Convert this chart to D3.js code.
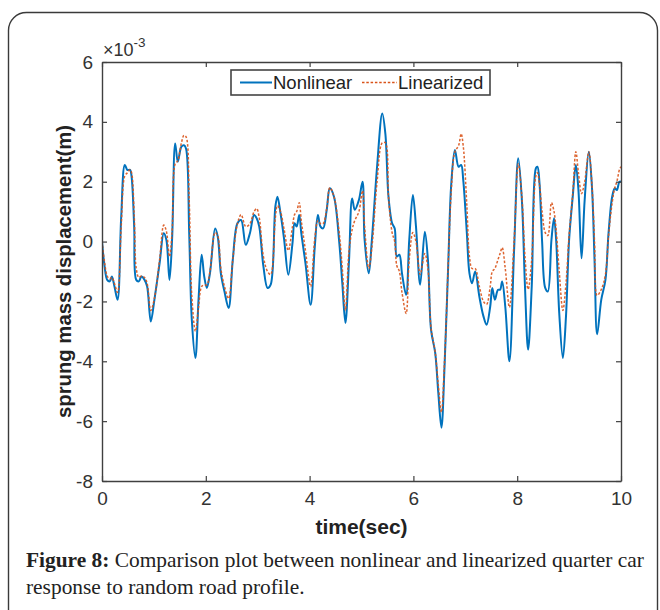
<!DOCTYPE html>
<html><head><meta charset="utf-8">
<script src="https://cdn.jsdelivr.net/npm/d3@7"></script>
<style>
html,body{margin:0;padding:0;background:#fff;}
svg{display:block;}
</style></head>
<body>
<svg id="c" width="660" height="610"></svg>
<script>
// ---- data (values in units of 1e-3 m) ----
const time = [0.00,0.05,0.10,0.15,0.19,0.24,0.30,0.37,0.44,0.49,0.54,0.57,0.62,0.66,0.71,0.76,0.82,0.87,0.94,1.01,1.11,1.19,1.24,1.30,1.35,1.41,1.46,1.53,1.58,1.62,1.68,1.73,1.80,1.86,1.92,1.97,2.02,2.08,2.18,2.23,2.29,2.36,2.44,2.52,2.61,2.68,2.77,2.85,2.93,2.98,3.03,3.11,3.19,3.25,3.34,3.38,3.44,3.51,3.59,3.67,3.71,3.75,3.80,3.84,3.92,4.02,4.10,4.16,4.21,4.26,4.33,4.39,4.47,4.57,4.63,4.69,4.76,4.82,4.87,4.95,5.02,5.06,5.14,5.20,5.30,5.40,5.46,5.52,5.59,5.64,5.68,5.73,5.78,5.86,5.92,5.99,6.05,6.13,6.22,6.28,6.34,6.42,6.48,6.54,6.60,6.67,6.73,6.80,6.87,6.92,6.96,7.03,7.08,7.13,7.19,7.27,7.35,7.41,7.48,7.52,7.57,7.63,7.67,7.71,7.77,7.85,7.94,8.02,8.09,8.15,8.21,8.28,8.36,8.39,8.43,8.48,8.54,8.59,8.66,8.71,8.75,8.81,8.88,8.94,9.00,9.07,9.13,9.18,9.24,9.30,9.38,9.44,9.49,9.54,9.62,9.70,9.76,9.83,9.88,9.92,9.97,10.00];
const nonlinear = [0.00,-0.83,-1.28,-1.33,-1.17,-1.50,-1.94,0.83,2.56,2.39,2.40,2.17,0.50,-1.28,-1.33,-1.17,-1.28,-1.50,-2.67,-1.94,-0.72,0.28,0.06,-1.28,0.06,3.28,2.67,3.17,3.22,3.10,0.28,-2.60,-3.89,-1.94,-0.44,-1.17,-1.55,-1.06,0.44,0.17,-1.06,-1.67,-2.22,-0.61,0.61,0.72,-0.11,0.28,0.89,0.78,0.50,-0.83,-1.55,-1.44,1.17,1.50,0.94,0.06,-1.11,-0.06,0.61,0.50,0.89,0.28,-0.72,-2.11,-0.17,0.89,0.50,0.44,1.06,1.78,1.50,0.00,-1.39,-2.72,-0.61,1.44,1.06,1.39,2.00,0.06,-1.06,0.06,2.50,4.28,3.60,1.50,0.61,0.44,-0.50,-0.44,-1.06,-1.78,0.06,1.56,0.50,-1.44,0.33,-0.61,-2.94,-3.72,-5.06,-6.22,-4.17,-0.83,1.94,3.06,2.50,2.56,2.06,0.28,-1.06,-1.39,-1.00,-1.83,-2.50,-2.78,-2.17,-1.55,-1.94,-1.61,-1.61,-1.33,-2.17,-4.00,-0.28,2.78,1.39,-1.50,-3.61,-1.50,2.45,2.50,1.94,0.00,-1.55,-1.67,0.06,0.78,0.06,-2.39,-3.89,-2.50,0.06,1.50,2.56,1.72,-0.56,1.39,3.00,1.83,-0.61,-3.10,-1.94,-1.28,0.28,1.50,1.78,1.72,2.00,2.00];
const linearized = [0.00,-0.70,-1.15,-1.25,-1.20,-1.40,-1.70,0.50,2.20,2.30,2.40,2.30,0.90,-0.90,-1.20,-1.15,-1.20,-1.40,-2.30,-1.90,-0.60,0.55,0.35,-0.50,0.30,2.60,2.70,3.30,3.55,3.50,1.40,-1.80,-3.00,-2.20,-1.50,-1.45,-1.45,-1.00,0.30,0.20,-0.90,-1.50,-1.90,-0.60,0.60,0.90,0.50,0.60,1.00,1.10,0.80,-0.50,-1.00,-1.10,0.80,1.20,1.00,0.40,-0.30,0.50,0.90,1.00,1.30,0.70,-0.30,-1.50,0.10,0.70,0.60,0.60,1.10,1.80,1.50,0.30,-0.90,-2.30,-0.30,0.40,0.70,1.00,1.70,0.50,-0.90,-0.20,2.00,3.30,3.30,1.50,0.30,0.00,-0.80,-1.00,-1.70,-2.40,-0.60,0.30,0.00,-1.10,-0.40,-0.90,-2.90,-3.70,-4.80,-5.70,-4.00,-0.80,1.70,3.00,3.20,3.60,3.20,1.20,-0.50,-0.90,-0.90,-1.50,-2.00,-2.10,-1.50,-1.00,-0.90,-0.60,-0.40,-0.20,-0.90,-2.20,0.00,2.60,1.50,-0.50,-1.60,-0.60,2.20,2.30,1.90,1.00,0.30,0.20,1.30,1.00,0.40,-1.00,-2.30,-1.40,0.20,1.60,3.00,2.30,1.60,2.00,3.00,1.90,0.00,-1.80,-1.60,-1.10,0.20,1.30,1.80,2.00,2.40,2.50];
const xTicks = [0,2,4,6,8,10];
const yTicks = [-8,-6,-4,-2,0,2,4,6];
const seriesNames = ["Nonlinear","Linearized"];
const seriesColors = ["#0072BD","#D95319"];
const xLabel = "time(sec)";
const yLabel = "sprung mass displacement(m)";
const captionBold = "Figure 8:";
const captionLine1 = " Comparison plot between nonlinear and linearized quarter car";
const captionLine2 = "response to random road profile.";

// ---- layout ----
const svg = d3.select("#c");
const L = 102, T = 62, R = 621, B = 481;
const x = d3.scaleLinear().domain([0,10]).range([L,R]);
const y = d3.scaleLinear().domain([-8,6]).range([B,T]);
const axisColor = "#404040";
const textColor = "#333";
const fmt = d => String(d);

// outer frame
svg.append("rect").attr("x",8.5).attr("y",12.5).attr("width",649).attr("height",640)
  .attr("rx",18).attr("fill","none").attr("stroke","#3a3a3a").attr("stroke-width",1.4);

// plot background
svg.append("rect").attr("x",L).attr("y",T).attr("width",R-L).attr("height",B-T).attr("fill","#fff");

// lines
const line = (vals) => d3.line().x((d,i)=>x(time[i])).y(d=>y(d)).curve(d3.curveCatmullRom.alpha(0.5))(vals);
svg.append("clipPath").attr("id","pc").append("rect").attr("x",L).attr("y",T).attr("width",R-L).attr("height",B-T);
const g = svg.append("g").attr("clip-path","url(#pc)");
g.append("path").attr("d",line(nonlinear)).attr("fill","none").attr("stroke",seriesColors[0]).attr("stroke-width",2).attr("stroke-linejoin","round");
g.append("path").attr("d",line(linearized)).attr("fill","none").attr("stroke",seriesColors[1]).attr("stroke-width",1.5).attr("stroke-dasharray","2.5,1.8").attr("stroke-opacity",0.9);

// axes (box with inward ticks on all sides)
const tickLen = 5;
const axB = svg.append("g").attr("transform",`translate(0,${B})`).call(d3.axisBottom(x).tickValues(xTicks).tickFormat(fmt).tickSizeInner(-tickLen).tickSizeOuter(0).tickPadding(11));
const axT = svg.append("g").attr("transform",`translate(0,${T})`).call(d3.axisTop(x).tickValues(xTicks).tickSizeInner(-tickLen).tickSizeOuter(0).tickFormat(""));
const axL = svg.append("g").attr("transform",`translate(${L},0)`).call(d3.axisLeft(y).tickValues(yTicks).tickFormat(fmt).tickSizeInner(-tickLen).tickSizeOuter(0).tickPadding(9));
const axR = svg.append("g").attr("transform",`translate(${R},0)`).call(d3.axisRight(y).tickValues(yTicks).tickSizeInner(-tickLen).tickSizeOuter(0).tickFormat(""));
[axB,axT,axL,axR].forEach(a=>{
  a.select(".domain").attr("stroke",axisColor).attr("stroke-width",1.4);
  a.selectAll(".tick line").attr("stroke",axisColor).attr("stroke-width",1.2);
  a.selectAll(".tick text").attr("fill",textColor).attr("font-family","Liberation Sans, Arial, sans-serif").attr("font-size",19);
});
axB.selectAll(".tick text").attr("dy","0.71em");

// exponent
const ex = svg.append("text").attr("x",103).attr("y",56).attr("fill",textColor)
  .attr("font-family","Liberation Sans, Arial, sans-serif").attr("font-size",18);
ex.append("tspan").text("\u00d710");
ex.append("tspan").attr("font-size",13.5).attr("dy",-9).text("-3");

// axis labels
svg.append("text").attr("x",(L+R)/2).attr("y",534).attr("text-anchor","middle")
  .attr("font-family","Liberation Sans, Arial, sans-serif").attr("font-weight","bold").attr("font-size",21)
  .attr("fill","#222").text(xLabel);
svg.append("text").attr("transform",`translate(71,${(T+B)/2}) rotate(-90)`).attr("text-anchor","middle")
  .attr("font-family","Liberation Sans, Arial, sans-serif").attr("font-weight","bold").attr("font-size",20.3)
  .attr("fill","#222").text(yLabel);

// legend
const lg = svg.append("g");
lg.append("rect").attr("x",231).attr("y",70).attr("width",259).attr("height",25).attr("fill","#fff")
  .attr("stroke","#444").attr("stroke-width",1.6);
lg.append("line").attr("x1",240).attr("x2",272).attr("y1",82.5).attr("y2",82.5).attr("stroke",seriesColors[0]).attr("stroke-width",2);
lg.append("text").attr("x",273).attr("y",89).attr("font-family","Liberation Sans, Arial, sans-serif").attr("font-size",18.5).attr("fill","#222").text(seriesNames[0]);
lg.append("line").attr("x1",362).attr("x2",397).attr("y1",82.5).attr("y2",82.5).attr("stroke",seriesColors[1]).attr("stroke-width",1.5).attr("stroke-dasharray","2.5,1.8");
lg.append("text").attr("x",398).attr("y",89).attr("font-family","Liberation Sans, Arial, sans-serif").attr("font-size",18.5).attr("fill","#222").text(seriesNames[1]);

// caption
const capFont = 21.4;
const cap = svg.append("text").attr("x",26).attr("y",567).attr("font-family","Liberation Serif, Times New Roman, serif").attr("font-size",capFont).attr("fill","#222");
cap.append("tspan").attr("font-weight","bold").text(captionBold);
cap.append("tspan").text(captionLine1);
svg.append("text").attr("x",26).attr("y",594).attr("font-family","Liberation Serif, Times New Roman, serif").attr("font-size",capFont).attr("fill","#222").text(captionLine2);
</script>
</body></html>
